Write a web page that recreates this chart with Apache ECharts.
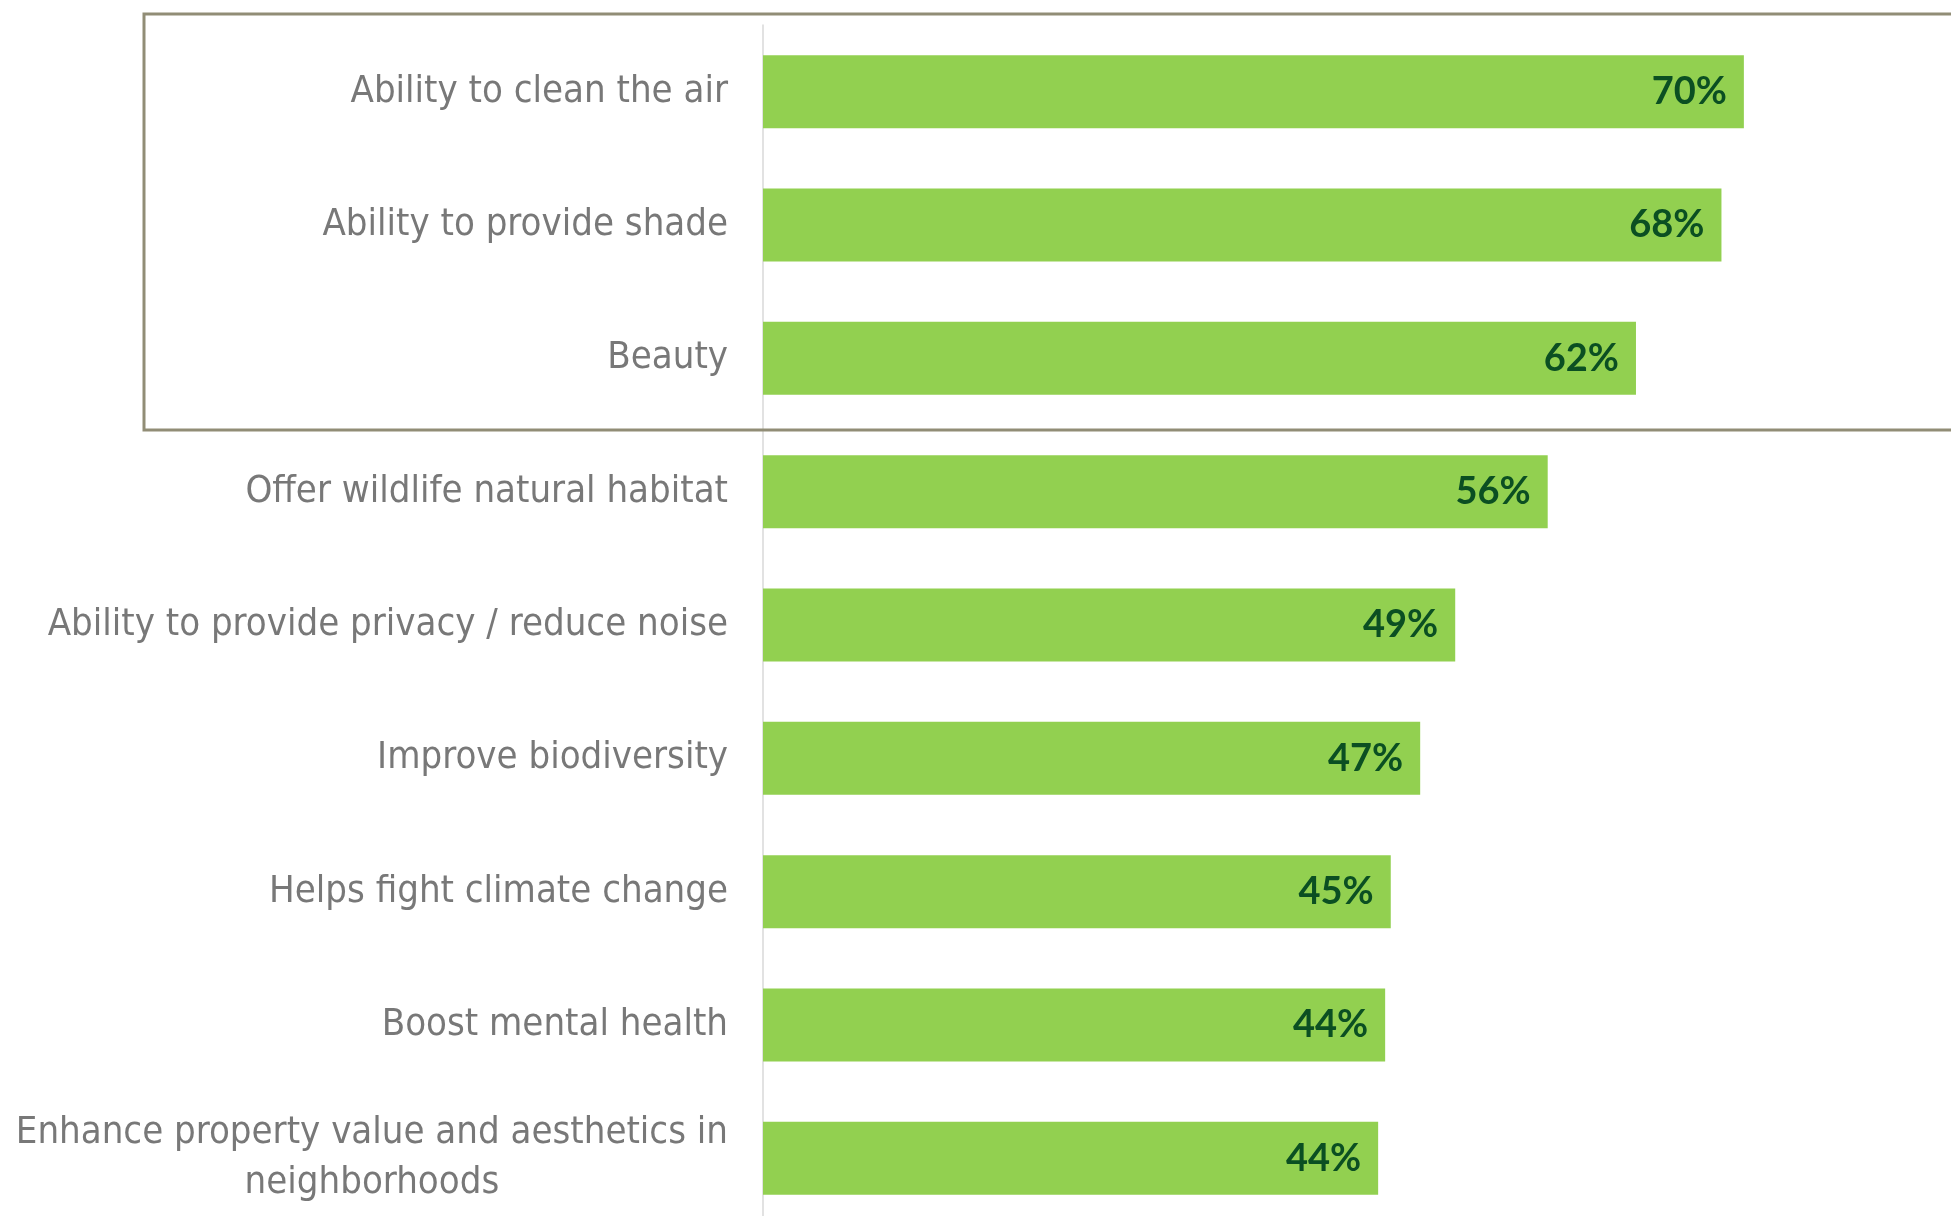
<!DOCTYPE html>
<html>
<head>
<meta charset="utf-8">
<script src="https://cdn.jsdelivr.net/npm/echarts@6/dist/echarts.min.js"></script>
<style>
html,body{margin:0;padding:0;background:#fff;}
#chart{width:1951px;height:1216px;}
</style>
</head>
<body>
<div id="chart"></div>
<script>
const categories = [
  'Ability to clean the air',
  'Ability to provide shade',
  'Beauty',
  'Offer wildlife natural habitat',
  'Ability to provide privacy / reduce noise',
  'Improve biodiversity',
  'Helps fight climate change',
  'Boost mental health',
  'Enhance property value and aesthetics in\nneighborhoods'
];
const values = [70, 68.4, 62.3, 56, 49.4, 46.9, 44.8, 44.4, 43.9];

const catFont = "'Liberation Sans Narrow', 'DejaVu Sans Condensed', 'Arial Narrow', sans-serif";
const catSize = 38;

function measure(text) {
  const c = document.createElement('canvas').getContext('2d');
  c.font = catSize + 'px ' + catFont;
  return Math.max.apply(null, text.split('\n').map(l => c.measureText(l).width));
}

const axisData = categories.map(c => {
  if (c.indexOf('\n') >= 0) {
    const w = measure(c);
    return { value: c, textStyle: { align: 'center', padding: [0, w, 0, 0] } };
  }
  return c;
});

const chart = echarts.init(document.getElementById('chart'), null, { renderer: 'canvas' });
chart.setOption({
  backgroundColor: '#ffffff',
  animation: false,
  grid: { left: 763, top: 25, width: 1121, height: 1200, containLabel: false, outerBoundsMode: 'none' },
  xAxis: {
    type: 'value', min: 0, max: 80, show: false
  },
  yAxis: {
    type: 'category',
    inverse: true,
    data: axisData,
    axisLine: { show: true, lineStyle: { color: '#d9d9d9', width: 1.5 } },
    axisTick: { show: false },
    axisLabel: {
      margin: 35,
      color: '#787878',
      fontFamily: catFont,
      fontSize: catSize,
      lineHeight: 50,
      align: 'right'
    }
  },
  series: [{
    type: 'bar',
    data: values,
    barWidth: 73,
    itemStyle: { color: '#92d050' },
    label: {
      show: true,
      position: 'insideRight',
      distance: 17,
      formatter: p => Math.round(p.value) + '%',
      color: '#0b4f22',
      fontFamily: "Lato, 'Open Sans', sans-serif",
      fontWeight: 'bold',
      fontSize: 38
    }
  }],
  graphic: [{
    type: 'rect',
    shape: { x: 144, y: 14, width: 1900, height: 416 },
    style: { fill: null, stroke: '#918d76', lineWidth: 3 },
    z: 10
  }]
});
</script>
</body>
</html>
